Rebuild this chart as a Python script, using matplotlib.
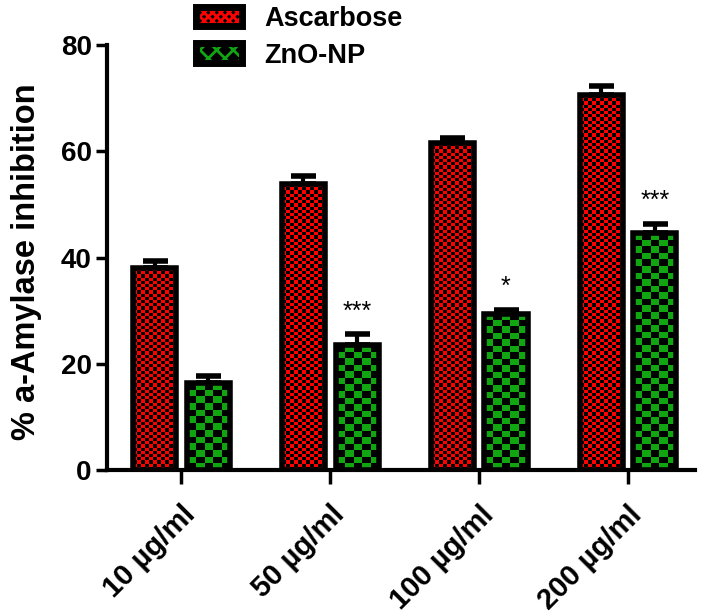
import numpy as np
import matplotlib
matplotlib.use('Agg')
import matplotlib.pyplot as plt
from matplotlib.colors import ListedColormap
from matplotlib.patches import Patch
from matplotlib.legend_handler import HandlerTuple

# datos
doses = ['10 µg/ml', '50 µg/ml', '100 µg/ml', '200 µg/ml']
ascarbose = [38.0, 53.8, 61.5, 70.5]
ascarbose_err = [1.4, 1.6, 1.0, 1.8]
znonp = [16.3, 23.5, 29.4, 44.6]
znonp_err = [1.4, 2.1, 0.8, 1.8]
stars = ['', '***', '*', '***']

plt.rcParams['font.family'] = ['Liberation Sans', 'DejaVu Sans']
plt.rcParams['font.weight'] = 'bold'
plt.rcParams['hatch.linewidth'] = 2.0

fig = plt.figure(figsize=(7.08, 6.14), dpi=100)
ax = fig.add_axes([107 / 708, 1 - 470 / 614, 588 / 708, 425 / 614])

x = np.arange(len(doses))
w = 0.29
off = 0.18
ymax = 80
axh_px = 425.0


def checker_bar(xc, val, color, nx, cell_px):
    '''barra con relleno de tablero de ajedrez'''
    bar = ax.bar(xc, val, w, color='black', zorder=1)[0]
    ny = max(1, int(round(val / ymax * axh_px / cell_px)))
    board = (np.indices((ny, nx)).sum(axis=0) % 2)
    im = ax.imshow(board, extent=(xc - w / 2, xc + w / 2, 0, val), aspect='auto',
                   cmap=ListedColormap(['black', color]), interpolation='nearest',
                   zorder=2, origin='lower')
    im.set_clip_path(bar)
    ax.bar(xc, val, w, facecolor='none', edgecolor='black', linewidth=4, zorder=3)


for i in range(len(doses)):
    checker_bar(x[i] - off, ascarbose[i], '#ff0000', 11, 3.2)
    checker_bar(x[i] + off, znonp[i], '#11a611', 5, 6.5)

ax.errorbar(x - off, ascarbose, yerr=[np.zeros(4), ascarbose_err], fmt='none',
            ecolor='black', elinewidth=3, capsize=9, capthick=4, zorder=0.5)
ax.errorbar(x + off, znonp, yerr=[np.zeros(4), znonp_err], fmt='none',
            ecolor='black', elinewidth=3, capsize=9, capthick=4, zorder=0.5)

for i in range(len(doses)):
    if stars[i]:
        ax.text(x[i] + off, znonp[i] + znonp_err[i] + 2.0, stars[i], ha='center', va='bottom',
                fontsize=18, fontweight='normal')

ax.set_xlim(-0.5, 3.45)
ax.set_ylim(0, ymax)
ax.set_yticks([0, 20, 40, 60, 80])
ax.set_xticks(x)
ax.set_xticklabels(doses, rotation=45, ha='right', rotation_mode='anchor', fontsize=21)
ax.tick_params(axis='y', labelsize=20, length=8, width=2.5, pad=3)
ax.tick_params(axis='x', length=10, width=2.5, pad=12)
for s in ['top', 'right']:
    ax.spines[s].set_visible(False)
for s in ['left', 'bottom']:
    ax.spines[s].set_linewidth(3)

ax.set_ylabel('% a-Amylase inhibition', fontsize=23.5, fontweight='bold')
ax.yaxis.set_label_coords(-0.11, 0.49)


def legend_handle(color, hatch):
    base = Patch(facecolor='black', edgecolor='black', linewidth=0)
    pat = Patch(facecolor='none', edgecolor=color, linewidth=0, hatch=hatch)
    border = Patch(facecolor='none', edgecolor='black', linewidth=5)
    return (base, pat, border)


handles = [legend_handle('#ff0000', 'xxxx'), legend_handle('#11a611', 'xx')]
fig.legend(handles=handles, labels=['Ascarbose', 'ZnO-NP'],
           handler_map={tuple: HandlerTuple(ndivide=1, pad=0)},
           loc='upper left', bbox_to_anchor=(172 / 708, 1.03), frameon=False,
           fontsize=19.5, handlelength=1.7, handleheight=0.75, labelspacing=0.4, handletextpad=0.8)

fig.savefig('out.png', dpi=100)
